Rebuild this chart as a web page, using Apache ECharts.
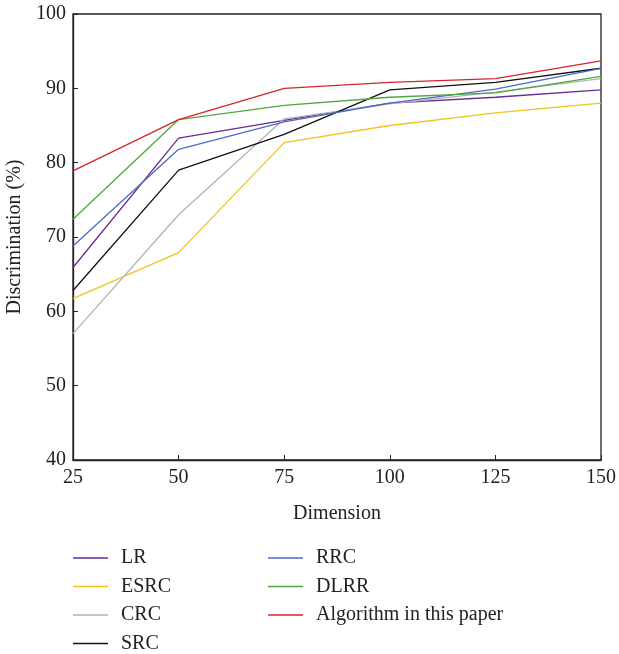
<!DOCTYPE html>
<html>
<head>
<meta charset="utf-8">
<script src="https://cdn.jsdelivr.net/npm/echarts@6/dist/echarts.min.js"></script>
<style>html,body{margin:0;padding:0;background:#fff;}#c{width:619px;height:654px;}</style>
</head>
<body>
<div id="c"></div>
<script>
var dimensions = [25, 50, 75, 100, 125, 150];
var LR    = [65.9, 83.3, 85.7, 88.0, 88.8, 89.8];
var ESRC  = [61.7, 67.9, 82.7, 85.0, 86.7, 88.0];
var CRC   = [57.0, 73.0, 85.9, 87.9, 89.5, 91.3];
var SRC   = [62.8, 79.0, 83.8, 89.8, 90.8, 92.7];
var RRC   = [68.8, 81.8, 85.5, 88.0, 89.9, 92.7];
var DLRR  = [72.4, 85.8, 87.7, 88.8, 89.4, 91.6];
var OURS  = [78.9, 85.8, 90.0, 90.8, 91.3, 93.7];
var seriesNames = ['LR', 'ESRC', 'CRC', 'SRC', 'RRC', 'DLRR', 'Algorithm in this paper'];
var seriesData = [LR, ESRC, CRC, SRC, RRC, DLRR, OURS];
var colors = ['#6a2c91', '#f3c21b', '#b3b3b3', '#111111', '#4a6cc4', '#4ea83d', '#d8232a'];

var font = 'Liberation Serif, DejaVu Serif, serif';
var chart = echarts.init(document.getElementById('c'));
var series = seriesNames.map(function (n, i) {
  return {
    name: n, type: 'line', showSymbol: false, symbol: 'none',
    data: dimensions.map(function (d, j) { return [d, seriesData[i][j]]; }),
    lineStyle: { color: colors[i], width: 1.3 },
    itemStyle: { color: colors[i] }
  };
});
function legendOf(left, names) {
  return {
    orient: 'vertical', left: left, top: 543, height: 130, data: names,
    icon: 'rect', itemWidth: 35, itemHeight: 1.5, itemGap: 8.5,
    textStyle: { fontFamily: font, fontSize: 20, color: '#222', padding: [0, 0, 0, 8] }
  };
}
chart.setOption({
  animation: false,
  color: colors,
  grid: { left: 73, right: 18, top: 14, bottom: 194, containLabel: false, outerBoundsMode: 'none',
          show: true, borderColor: '#222', borderWidth: 1.3 },
  legend: [ legendOf(68, seriesNames.slice(0, 4)), legendOf(263, seriesNames.slice(4)) ],
  xAxis: {
    type: 'value', min: 25, max: 150, interval: 25,
    name: 'Dimension', nameLocation: 'middle', nameGap: 44,
    nameTextStyle: { fontFamily: font, fontSize: 20, color: '#222' },
    axisLine: { lineStyle: { color: '#222', width: 1.3 } },
    axisTick: { inside: true, length: 5, lineStyle: { color: '#222' } },
    axisLabel: { fontFamily: font, fontSize: 20, color: '#222', margin: 8 },
    splitLine: { show: false }
  },
  yAxis: {
    type: 'value', min: 40, max: 100, interval: 10,
    name: 'Discrimination (%)', nameLocation: 'middle', nameGap: 41,
    nameTextStyle: { fontFamily: font, fontSize: 20, color: '#222' },
    axisLine: { show: true, lineStyle: { color: '#222', width: 1.3 } },
    axisTick: { show: true, inside: true, length: 5, lineStyle: { color: '#222' } },
    axisLabel: { fontFamily: font, fontSize: 20, color: '#222', margin: 7 },
    splitLine: { show: false }
  },
  series: series
});
</script>
</body>
</html>
